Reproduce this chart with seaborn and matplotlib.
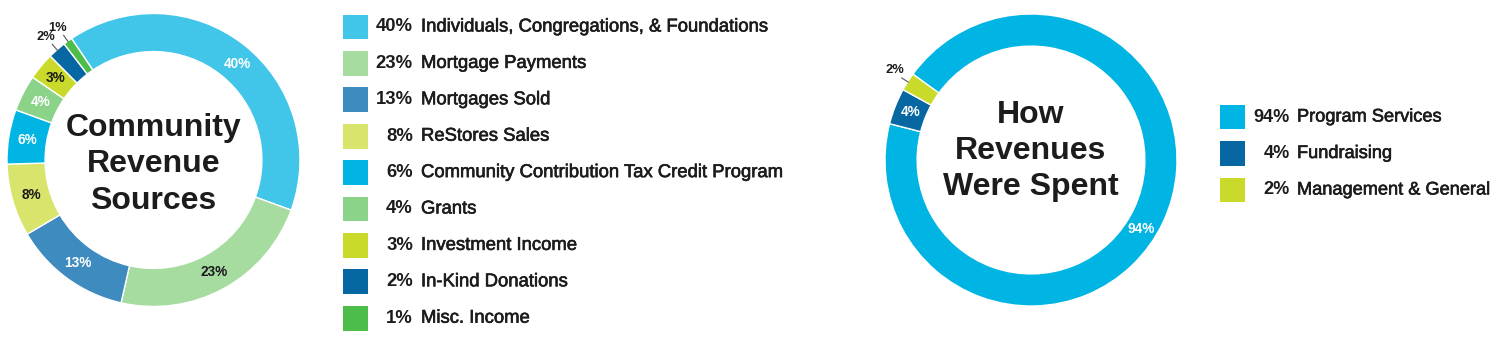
import matplotlib
matplotlib.use("Agg")
import matplotlib.pyplot as plt
import matplotlib.patheffects as pe
import numpy as np
import seaborn as sns

# ---------------- data ----------------
rev_values = [40, 23, 13, 8, 6, 4, 3, 2, 1]
rev_labels = ["Individuals, Congregations, & Foundations", "Mortgage Payments",
              "Mortgages Sold", "ReStores Sales", "Community Contribution Tax Credit Program",
              "Grants", "Investment Income", "In-Kind Donations", "Misc. Income"]
rev_colors = ["#41C5E9", "#A7DCA0", "#3E8BBF", "#D9E46C", "#00B4E3",
              "#8CD38A", "#C9DA2B", "#0767A3", "#4DBD49"]
rev_label_colors = ["white", "#1a1a1a", "white", "#1a1a1a", "white",
                    "white", "#1a1a1a", "#1a1a1a", "#1a1a1a"]

exp_values = [94, 4, 2]
exp_labels = ["Program Services", "Fundraising", "Management & General"]
exp_colors = ["#00B4E3", "#0767A3", "#C9DA2B"]
exp_label_colors = ["white", "white", "#1a1a1a"]

left_title = "Community\nRevenue\nSources"
right_title = "How\nRevenues\nWere Spent"

# ---------------- style ----------------
sns.set_theme(style="white")
plt.rcParams["font.family"] = ["Liberation Sans", "DejaVu Sans"]

W, H, DPI = 1500, 355, 100
fig = plt.figure(figsize=(W / DPI, H / DPI), dpi=DPI)
fig.patch.set_facecolor("white")

TXT = "#1c1c1c"
LIM = 1.2
medium = [pe.withStroke(linewidth=0.45, foreground=TXT)]


def donut(cx, cy, R, values, colors, lcolors, start, width, title, title_dy, label_shift):
    size = 2 * LIM * R
    ax = fig.add_axes([(cx - size / 2) / W, (H - cy - size / 2) / H, size / W, size / H])
    pal = sns.color_palette(colors)
    wedges, _ = ax.pie(values, colors=pal, startangle=start, counterclock=False,
                       wedgeprops=dict(width=width, edgecolor="white", linewidth=1.0))
    ax.set_xlim(-LIM, LIM)
    ax.set_ylim(-LIM, LIM)
    ax.set_aspect("equal")
    ax.axis("off")
    rmid = 1 - width / 2
    for w, v, lc, sh in zip(wedges, values, lcolors, label_shift):
        ang = np.deg2rad((w.theta1 + w.theta2) / 2 + sh)
        if v > 2:
            ax.text(rmid * np.cos(ang), rmid * np.sin(ang), f"{v}%", ha="center",
                    va="center", fontsize=9.8, fontweight="bold", color=lc)
        else:
            ax.plot([0.995 * np.cos(ang), 1.05 * np.cos(ang)],
                    [0.995 * np.sin(ang), 1.05 * np.sin(ang)], color="#555555", lw=0.8)
            ax.text(1.05 * np.cos(ang) + 0.02, 1.05 * np.sin(ang) + 0.01, f"{v}%",
                    ha="right", va="bottom", fontsize=9.3, fontweight="bold", color=TXT)
    ax.text(0, title_dy, title, ha="center", va="center", fontsize=23,
            fontweight="bold", color=TXT, linespacing=1.27)
    return ax


donut(153.5, 160, 146.5, rev_values, rev_colors, rev_label_colors, 124, 0.26,
      left_title, -0.03, [-3, 0, 0, 0, 0, 0, 0, 0, 0])
donut(1031, 160, 146, exp_values, exp_colors, exp_label_colors, 144, 0.22,
      right_title, 0.06, [-7, 0, 0])


def legend(x0, x1, y_first, step, values, labels, colors, sq_cx, pct_x, lab_x, fs):
    ax = fig.add_axes([x0 / W, 0, (x1 - x0) / W, 1])
    rows = list(range(len(values)))
    sns.scatterplot(x=[sq_cx - x0] * len(rows), y=rows, hue=rows,
                    palette=sns.color_palette(colors), marker="s", s=(25 / 1.389) ** 2,
                    linewidth=0, legend=False, ax=ax, clip_on=False)
    ax.set_xlim(0, x1 - x0)
    ax.set_ylim((H - y_first) / step, -y_first / step)
    ax.axis("off")
    for i, (v, lab) in enumerate(zip(values, labels)):
        ax.text(pct_x - x0, i, f"{v}%", ha="right", va="center", fontsize=fs,
                fontweight="bold", color=TXT)
        ax.text(lab_x - x0, i, lab, ha="left", va="center", fontsize=fs,
                color=TXT, path_effects=medium)


legend(330, 830, 27, 36.4, rev_values, rev_labels, rev_colors, 355.5, 413, 421, 13.3)
legend(1200, 1500, 117, 36.5, exp_values, exp_labels, exp_colors, 1232.5, 1290, 1297, 13.1)

fig.savefig("out.png", dpi=DPI, facecolor="white")
